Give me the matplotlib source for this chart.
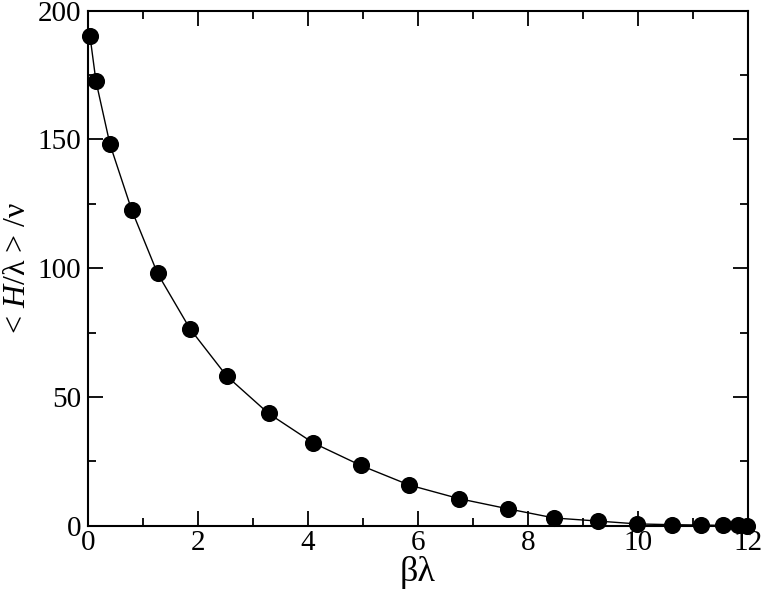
import matplotlib
matplotlib.use("Agg")
import matplotlib.pyplot as plt
from matplotlib.ticker import MultipleLocator

plt.rcParams['font.family'] = ['Liberation Serif', 'DejaVu Serif']
plt.rcParams['mathtext.fontset'] = 'custom'
plt.rcParams['mathtext.rm'] = 'Liberation Serif'
plt.rcParams['mathtext.it'] = 'Liberation Serif:italic'

beta_lambda = [0.03, 0.14, 0.395, 0.79, 1.26, 1.85, 2.52, 3.28, 4.09, 4.96,
               5.84, 6.75, 7.63, 8.48, 9.28, 9.99, 10.63, 11.15, 11.56, 11.83, 11.98]
energy = [190.3, 172.6, 148.1, 122.6, 98.0, 76.5, 58.1, 43.6, 32.2, 23.4,
          15.8, 10.5, 6.6, 3.0, 1.8, 0.7, 0.4, 0.25, 0.15, 0.1, 0.05]

xlabel = "βλ"
ylabel = r"< $\mathit{H}$/λ > /ν"

fig = plt.figure(figsize=(7.63, 5.97), dpi=100)
ax = fig.add_axes([0.1157, 0.1194, 0.9799 - 0.1157, 0.9821 - 0.1194])

ax.plot(beta_lambda, energy, color='black', linewidth=1.0, marker='o',
        markersize=11.3, markerfacecolor='black', markeredgecolor='black', clip_on=False)

ax.set_xlim(0, 12)
ax.set_ylim(0, 200)
ax.xaxis.set_major_locator(MultipleLocator(2))
ax.xaxis.set_minor_locator(MultipleLocator(1))
ax.yaxis.set_major_locator(MultipleLocator(50))
ax.yaxis.set_minor_locator(MultipleLocator(25))

ax.tick_params(which='both', direction='in', top=True, right=True, width=1.3, colors='black')
ax.tick_params(which='major', length=10.5)
ax.tick_params(which='minor', length=5.5)
ax.tick_params(axis='x', which='major', labelsize=21, pad=3)
ax.tick_params(axis='y', which='major', labelsize=21, pad=5)

for s in ax.spines.values():
    s.set_linewidth(1.5)
    s.set_color('black')

ax.set_xlabel(xlabel, fontsize=26, labelpad=0)
ax.set_ylabel(ylabel, fontsize=23)
ax.yaxis.set_label_coords(-0.086, 0.5)

fig.savefig("out.png", dpi=100)
